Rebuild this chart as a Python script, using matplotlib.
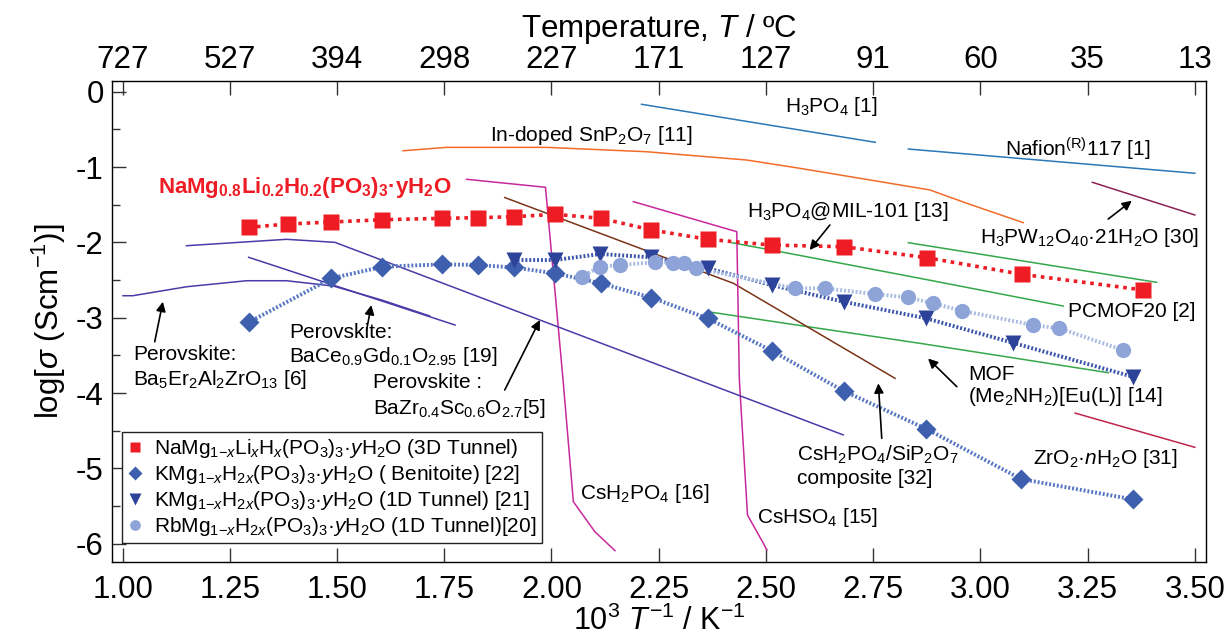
import matplotlib
matplotlib.use("Agg")
import matplotlib.pyplot as plt

plt.rcParams['font.family'] = ['Liberation Sans', 'DejaVu Sans']
plt.rcParams['mathtext.fontset'] = 'custom'
plt.rcParams['mathtext.rm'] = 'Liberation Sans'
plt.rcParams['mathtext.it'] = 'Liberation Sans:italic'
plt.rcParams['mathtext.bf'] = 'Liberation Sans:bold'
plt.rcParams['axes.unicode_minus'] = False

# --- measured series (x = 1000/T, y = log sigma) ---
na_x = [1.294, 1.385, 1.487, 1.606, 1.745, 1.828, 1.912, 2.008, 2.115, 2.233,
        2.364, 2.513, 2.681, 2.875, 3.097, 3.380]
na_y = [-1.800, -1.756, -1.729, -1.699, -1.680, -1.672, -1.659, -1.627, -1.680, -1.835,
        -1.959, -2.035, -2.057, -2.203, -2.424, -2.632]

kben_x = [1.294, 1.487, 1.606, 1.745, 1.828, 1.912, 2.008, 2.115, 2.233, 2.364,
          2.513, 2.681, 2.873, 3.095, 3.355]
kben_y = [-3.061, -2.477, -2.323, -2.291, -2.300, -2.333, -2.410, -2.543, -2.734, -3.008,
          -3.438, -3.973, -4.474, -5.142, -5.412]

k1d_x = [1.912, 2.008, 2.114, 2.233, 2.364, 2.513, 2.681, 2.873, 3.075, 3.355]
k1d_y = [-2.234, -2.234, -2.154, -2.198, -2.344, -2.566, -2.788, -3.008, -3.332, -3.784]

rb_x = [2.070, 2.113, 2.160, 2.241, 2.284, 2.309, 2.338, 2.568, 2.638, 2.755,
        2.832, 2.890, 2.958, 3.123, 3.184, 3.332]
rb_y = [-2.456, -2.323, -2.300, -2.264, -2.270, -2.278, -2.344, -2.610, -2.610, -2.686,
        -2.730, -2.810, -2.908, -3.098, -3.141, -3.429]

# --- literature curves ---
h3po4_x = [2.210, 2.755]
h3po4_y = [-0.166, -0.671]
nafion_x = [2.832, 3.500]
nafion_y = [-0.760, -1.082]
snp_x = [1.654, 1.755, 1.989, 2.222, 2.455, 2.579, 2.882, 2.968, 3.100]
snp_y = [-0.783, -0.738, -0.738, -0.796, -0.906, -1.016, -1.303, -1.480, -1.738]
h3pw_x = [3.261, 3.500]
h3pw_y = [-1.202, -1.636]
mil_x = [2.421, 2.580, 2.859, 3.193]
mil_y = [-2.004, -2.174, -2.477, -2.845]
pcmof_x = [2.832, 3.411]
pcmof_y = [-2.004, -2.530]
mof_x = [2.364, 2.580, 2.859, 3.298]
mof_y = [-2.920, -3.104, -3.340, -3.730]
comp_x = [1.891, 2.393, 2.424, 2.801]
comp_y = [-1.404, -2.477, -2.543, -3.805]
csh2po4_x = [1.802, 1.986, 2.027, 2.051, 2.101, 2.148]
csh2po4_y = [-1.162, -1.268, -3.827, -5.443, -5.841, -6.093]
cshso4_x = [2.191, 2.432, 2.438, 2.457, 2.494, 2.502]
cshso4_y = [-1.459, -1.858, -3.827, -5.620, -5.996, -6.085]
bazr_x = [1.149, 1.382, 1.495, 2.680]
bazr_y = [-2.044, -1.959, -1.999, -4.556]
baer_x = [1.001, 1.024, 1.149, 1.289, 1.382, 1.491, 1.604, 1.716]
baer_y = [-2.708, -2.708, -2.589, -2.509, -2.509, -2.579, -2.765, -2.977]
bace_x = [1.294, 1.775]
bace_y = [-2.198, -3.097]
zro2_x = [3.221, 3.500]
zro2_y = [-4.267, -4.721]

x_ticks = [1.00, 1.25, 1.50, 1.75, 2.00, 2.25, 2.50, 2.75, 3.00, 3.25, 3.50]
top_labels = ['727', '527', '394', '298', '227', '171', '127', '91', '60', '35', '13']

legend_labels = [
    r'NaMg$_{1\mathrm{-}x}$Li$_x$H$_x$(PO$_3$)$_3$·$y$H$_2$O (3D Tunnel)',
    r'KMg$_{1\mathrm{-}x}$H$_{2x}$(PO$_3$)$_3$·$y$H$_2$O ( Benitoite) [22]',
    r'KMg$_{1\mathrm{-}x}$H$_{2x}$(PO$_3$)$_3$·$y$H$_2$O (1D Tunnel) [21]',
    r'RbMg$_{1\mathrm{-}x}$H$_{2x}$(PO$_3$)$_3$·$y$H$_2$O (1D Tunnel)[20]',
]

fig = plt.figure(figsize=(12.26, 6.39), dpi=100)
ax = fig.add_axes([0.0914, 0.1205, 0.8923, 0.7527])

lw = 1.1
ax.plot(h3po4_x, h3po4_y, color='#2a78b8', lw=lw)
ax.plot(nafion_x, nafion_y, color='#2a78b8', lw=lw)
ax.plot(snp_x, snp_y, color='#f26b2a', lw=lw)
ax.plot(h3pw_x, h3pw_y, color='#8c2357', lw=lw)
ax.plot(mil_x, mil_y, color='#35a84a', lw=lw)
ax.plot(pcmof_x, pcmof_y, color='#35a84a', lw=lw)
ax.plot(mof_x, mof_y, color='#35a84a', lw=lw)
ax.plot(comp_x, comp_y, color='#7a3518', lw=lw)
ax.plot(csh2po4_x, csh2po4_y, color='#c8289b', lw=lw)
ax.plot(cshso4_x, cshso4_y, color='#c8289b', lw=lw)
ax.plot(bazr_x, bazr_y, color='#4b3aa8', lw=lw)
ax.plot(baer_x, baer_y, color='#4b3aa8', lw=lw)
ax.plot(bace_x, bace_y, color='#4b3aa8', lw=lw)
ax.plot(zro2_x, zro2_y, color='#c0264e', lw=lw)

# dotted guide lines through the series
ax.plot(na_x, na_y, color='#ee1c25', lw=2.6, ls=(0, (1, 1.3)), zorder=3)
ax.plot(kben_x, kben_y, color='#5676c4', lw=2.8, ls=(0, (0.5, 0.5)), zorder=3)
ax.plot(k1d_x, k1d_y, color='#3a55ab', lw=2.8, ls=(0, (0.5, 0.5)), zorder=3)
ax.plot(rb_x, rb_y, color='#a9bbe2', lw=2.8, ls=(0, (0.5, 0.5)), zorder=3)

h1, = ax.plot(na_x, na_y, 's', color='#ee1c25', ms=11, mec='none', zorder=5)
h2, = ax.plot(kben_x, kben_y, 'D', color='#3d5fae', ms=10, mec='none', zorder=5)
h3, = ax.plot(k1d_x, k1d_y, 'v', color='#2c4399', ms=12, mec='none', zorder=5)
h4, = ax.plot(rb_x, rb_y, 'o', color='#8ea3d8', ms=11, mec='none', zorder=5)

leg = ax.legend([h1, h2, h3, h4], legend_labels, loc='upper left',
                bbox_to_anchor=(0.009, 0.271), borderaxespad=0, fontsize=15,
                markerscale=0.7, handlelength=0.8, handletextpad=0.5,
                labelspacing=0.15, borderpad=0.25, fancybox=False,
                edgecolor='#222222', framealpha=1)
leg.get_frame().set_linewidth(1.0)

fs = 15
ax.text(1.082, -1.265, r'NaMg$_{\mathbf{0.8}}$Li$_{\mathbf{0.2}}$H$_{\mathbf{0.2}}$(PO$_{\mathbf{3}}$)$_{\mathbf{3}}$·yH$_{\mathbf{2}}$O',
        color='#ee1c25', fontsize=16, fontweight='bold', va='center')
ax.text(2.545, -0.20, r'H$_3$PO$_4$ [1]', fontsize=fs, va='center')
ax.text(3.058, -0.77, r'Nafion$^{\mathrm{(R)}}$117 [1]', fontsize=fs, va='center')
ax.text(1.857, -0.575, r'In-doped SnP$_2$O$_7$ [11]', fontsize=fs, va='center')
ax.text(2.456, -1.585, r'H$_3$PO$_4$@MIL-101 [13]', fontsize=fs, va='center')
ax.text(2.999, -1.94, r'H$_3$PW$_{12}$O$_{40}$·21H$_2$O [30]', fontsize=fs, va='center')
ax.text(3.204, -2.924, 'PCMOF20 [2]', fontsize=fs, va='center')
ax.text(2.972, -3.76, 'MOF', fontsize=fs, va='center')
ax.text(2.972, -4.05, r'(Me$_2$NH$_2$)[Eu(L)] [14]', fontsize=fs, va='center')
ax.text(1.024, -3.495, 'Perovskite:', fontsize=fs, va='center')
ax.text(1.024, -3.827, r'Ba$_5$Er$_2$Al$_2$ZrO$_{13}$ [6]', fontsize=fs, va='center')
ax.text(1.388, -3.19, 'Perovskite:', fontsize=fs, va='center')
ax.text(1.388, -3.52, r'BaCe$_{0.9}$Gd$_{0.1}$O$_{2.95}$ [19]', fontsize=fs, va='center')
ax.text(1.584, -3.867, 'Perovskite :', fontsize=fs, va='center')
ax.text(1.584, -4.199, r'BaZr$_{0.4}$Sc$_{0.6}$O$_{2.7}$[5]', fontsize=fs, va='center')
ax.text(2.572, -4.824, r'CsH$_2$PO$_4$/SiP$_2$O$_7$', fontsize=fs, va='center')
ax.text(2.572, -5.129, 'composite [32]', fontsize=fs, va='center')
ax.text(2.066, -5.329, r'CsH$_2$PO$_4$ [16]', fontsize=fs, va='center')
ax.text(2.479, -5.647, r'CsHSO$_4$ [15]', fontsize=fs, va='center')
ax.text(3.123, -4.863, r'ZrO$_2$·$n$H$_2$O [31]', fontsize=fs, va='center')

arrows = [((1.075, -3.319), (1.094, -2.788)),
          ((1.569, -3.163), (1.580, -2.831)),
          ((1.891, -3.960), (1.973, -3.030)),
          ((2.649, -1.769), (2.602, -2.101)),
          ((3.298, -1.690), (3.353, -1.447)),
          ((2.945, -3.916), (2.878, -3.542)),
          ((2.770, -4.602), (2.762, -3.872))]
for tail, tip in arrows:
    ax.annotate('', xy=tip, xytext=tail,
                arrowprops=dict(arrowstyle='-|>', color='k', lw=1.2,
                                mutation_scale=14, shrinkA=0, shrinkB=0))

ax.set_xlim(0.9755, 3.526)
ax.set_ylim(-6.244, 0.143)
ax.set_xticks(x_ticks)
ax.set_xticklabels(['%.2f' % v for v in x_ticks])
ax.set_yticks([0, -1, -2, -3, -4, -5, -6])
ax.set_yticks([-0.5, -1.5, -2.5, -3.5, -4.5, -5.5], minor=True)
ax.tick_params(axis='both', which='major', direction='in', labelsize=22.5,
               length=10, width=1.0, color='#333333')
ax.tick_params(axis='x', pad=9)
ax.tick_params(axis='y', which='minor', direction='in', length=6, width=1.0,
               color='#333333')
ax.tick_params(axis='y', pad=6)
for s in ax.spines.values():
    s.set_linewidth(1.0)
    s.set_color('#333333')

ax.set_xlabel(r'10$^3$ $T^{-1}$ / K$^{-1}$', fontsize=22, labelpad=1)
ax.set_ylabel(r'log[$\sigma$ (Scm$^{-1}$)]', fontsize=22.5, labelpad=6)

ax2 = ax.twiny()
ax2.set_xlim(ax.get_xlim())
ax2.set_xticks(x_ticks)
ax2.set_xticklabels(top_labels)
ax2.tick_params(axis='x', direction='in', labelsize=22.5, length=10, width=1.0,
                color='#333333', pad=4)
ax2.set_xlabel(r'Temperature, $T$ / ºC', fontsize=22.5, labelpad=6)

fig.savefig('out.png', dpi=100)
